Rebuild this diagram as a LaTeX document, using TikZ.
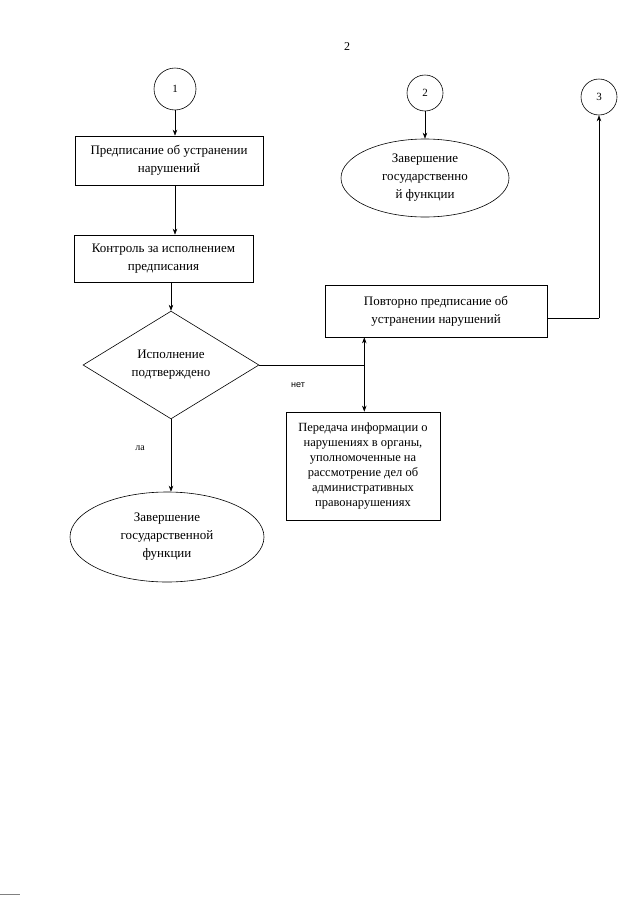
\documentclass[tikz,border=0pt]{standalone}
\usepackage{fontspec}
\setmainfont{Liberation Serif}
\newfontfamily\labsans{Liberation Sans}
\usetikzlibrary{shapes.geometric,arrows.meta}
\begin{document}
\begin{tikzpicture}[x=1pt,y=-1pt,
  every node/.style={font=\fontsize{13}{18}\selectfont, text=black},
  boxnode/.style={draw, line width=0.7pt, rectangle, align=center, inner sep=2pt},
  circnode/.style={draw, line width=0.6pt, circle, inner sep=0pt, font=\fontsize{11}{13}\selectfont},
  ellnode/.style={draw, line width=0.6pt, ellipse, align=center, inner sep=0pt},
  decnode/.style={draw, line width=0.6pt, diamond, align=center, inner sep=0pt},
  arr/.style={draw, line width=0.6pt, -{Stealth[length=6pt,width=4.5pt]}},
  ln/.style={draw, line width=0.6pt}]
\useasboundingbox (0,0) rectangle (640,905);
\fill[white] (0,0) rectangle (640,905);

\node (pg) at (347,47) {\fontsize{12}{14}\selectfont 2};

\node[circnode, minimum size=42pt] (c1) at (175,89) {1};
\node[circnode, minimum size=36pt] (c2) at (425,93) {2};
\node[circnode, minimum size=36pt] (c3) at (599,97) {3};

\node[boxnode, minimum width=188pt, minimum height=49pt] (b1) at (169,160.5) {Предписание об устранении\\нарушений};
\node[boxnode, minimum width=179pt, minimum height=47pt] (b2) at (163.5,258.5) {Контроль за исполнением\\предписания};
\node[decnode, minimum width=176pt, minimum height=86pt] (d) at (171,365) {Исполнение\\подтверждено};

\node[ellnode, minimum width=168pt, minimum height=78pt] (e2) at (425,178) {Завершение\\государственно\\й функции};
\node[ellnode, minimum width=194pt, minimum height=90pt] (e1) at (167,537) {Завершение\\государственной\\функции};

\node[boxnode, minimum width=222pt, minimum height=52pt] (povt) at (436,311) {Повторно предписание об\\устранении нарушений};
\node[boxnode, minimum width=154pt, minimum height=108pt, font=\fontsize{12.5}{15}\selectfont] (per) at (363,466) {Передача информации о\\нарушениях в органы,\\уполномоченные на\\рассмотрение дел об\\административных\\правонарушениях};

\node (net) at (298,385) {\labsans\fontsize{9}{11}\selectfont нет};
\node (la) at (140,448) {\fontsize{10}{12}\selectfont ла};

\draw[arr] (c1) -- (b1.north -| c1.south);
\draw[arr] (b1.south -| c1.south) -- (b2.north -| c1.south);
\draw[arr] (b2.south -| d.north) -- (d.north);
\draw[arr] (c2.south) -- (c2.south |- e2.north);
\draw[arr] (d.south) -- (d.south |- e1.north);

\path (d.east) -- ++(105,0) coordinate (j);
\draw[ln] (d.east) -- (j);
\draw[arr] (j) -- (j |- povt.south);
\draw[arr] (j) -- (j |- per.north);

\coordinate (rt) at (599,318);
\draw[ln] ([yshift=-7pt]povt.east) -- (rt);
\draw[arr] (rt) -- (c3.south);

\coordinate (m1) at (0,894);
\coordinate (m2) at (20,894);
\draw[line width=1pt, gray] (m1) -- (m2);
\end{tikzpicture}
\end{document}
